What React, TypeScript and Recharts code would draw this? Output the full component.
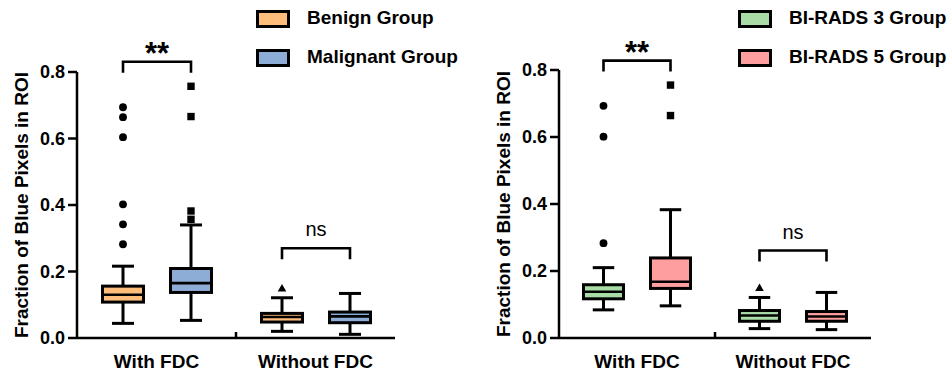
import React from 'react';
import { ComposedChart, Bar, XAxis, YAxis } from 'recharts';

// ---------- data ----------
const categories = ['With FDC', 'Without FDC'];
const yTicks = [0, 0.2, 0.4, 0.6, 0.8];

// box statistics: [min, q1, median, q3, max] per category
const benignStats = [
  [0.044, 0.108, 0.130, 0.156, 0.216],
  [0.020, 0.048, 0.063, 0.074, 0.121],
];
const malignantStats = [
  [0.053, 0.137, 0.165, 0.209, 0.340],
  [0.011, 0.046, 0.065, 0.078, 0.134],
];
const benignOutliers = [[0.282, 0.342, 0.402, 0.604, 0.664, 0.694], [0.149]];
const malignantOutliers = [[0.357, 0.382, 0.666, 0.757], []];
const leftSignificance = ['**', 'ns'];
const leftBracketLevels = [0.831, 0.270];

const birads3Stats = [
  [0.084, 0.117, 0.138, 0.159, 0.210],
  [0.028, 0.050, 0.067, 0.082, 0.121],
];
const birads5Stats = [
  [0.096, 0.148, 0.168, 0.239, 0.383],
  [0.025, 0.050, 0.064, 0.079, 0.136],
];
const birads3Outliers = [[0.283, 0.601, 0.693], [0.149]];
const birads5Outliers = [[0.664, 0.755], []];
const rightSignificance = ['**', 'ns'];
const rightBracketLevels = [0.828, 0.261];

// ---------- styles ----------
const FONT = '"Liberation Sans", Arial, Helvetica, sans-serif';
const BAR_GAP = 24;
const X_TICK_MARGIN = 17;
const COLORS = {
  benign: '#FFBD7B',
  malignant: '#8DACD6',
  birads3: '#A9DBA7',
  birads5: '#FF9E9E',
};
// marker per [category] for first / second series of each panel
const MARKERS_A = ['circle', 'triangle'];
const MARKERS_B = ['square', 'square'];

function Marker({ kind, cx, cy }: { kind: string; cx: number; cy: number }) {
  if (kind === 'circle') return <circle cx={cx} cy={cy} r={3.9} fill="#000" />;
  if (kind === 'square') return <rect x={cx - 3.7} y={cy - 3.7} width={7.4} height={7.4} fill="#000" />;
  return (
    <polygon
      points={`${cx},${cy - 4.5} ${cx - 4.3},${cy + 3} ${cx + 4.3},${cy + 3}`}
      fill="#000"
    />
  );
}

function makeBoxShape(
  statsKey: string,
  outKey: string,
  color: string,
  markers: string[],
  drawBracket: boolean
) {
  return (props: any) => {
    const { x, y, width, height, payload } = props;
    const stats: number[] = payload[statsKey];
    const outs: number[] = payload[outKey];
    const lo = stats[0];
    const hi = stats[4];
    const top = Math.min(y, y + height);
    const bottom = Math.max(y, y + height);
    const px = (v: number) => bottom - ((bottom - top) * (v - lo)) / (hi - lo);
    const cx = x + width / 2;
    const capHalf = width / 4;
    const sw = 3;
    const idx = payload.idx;
    const elems: any[] = [];
    elems.push(
      <line key="wu" x1={cx} x2={cx} y1={px(stats[4])} y2={px(stats[3])} stroke="#000" strokeWidth={sw} />,
      <line key="wl" x1={cx} x2={cx} y1={px(stats[1])} y2={px(stats[0])} stroke="#000" strokeWidth={sw} />,
      <line key="cu" x1={cx - capHalf} x2={cx + capHalf} y1={px(stats[4])} y2={px(stats[4])} stroke="#000" strokeWidth={sw} />,
      <line key="cl" x1={cx - capHalf} x2={cx + capHalf} y1={px(stats[0])} y2={px(stats[0])} stroke="#000" strokeWidth={sw} />
    );
    const bTop = px(stats[3]);
    const bBot = px(stats[1]);
    elems.push(
      <rect key="box" x={x + sw / 2} y={bTop} width={width - sw} height={Math.max(bBot - bTop, 0.1)} fill={color} stroke="#000" strokeWidth={sw} />,
      <line key="med" x1={x + sw / 2} x2={x + width - sw / 2} y1={px(stats[2])} y2={px(stats[2])} stroke="#000" strokeWidth={2.6} />
    );
    outs.forEach((v, i) => {
      elems.push(<Marker key={'o' + i} kind={markers[idx]} cx={cx} cy={px(v)} />);
    });
    if (drawBracket) {
      const left = cx - (width + BAR_GAP);
      const by = px(payload.bracket);
      const legs = 11;
      elems.push(
        <path
          key="br"
          d={`M${left},${by + legs} L${left},${by} L${cx},${by} L${cx},${by + legs}`}
          fill="none"
          stroke="#000"
          strokeWidth={2.6}
        />
      );
      const isNs = payload.sig === 'ns';
      elems.push(
        <text
          key="sig"
          x={(left + cx) / 2}
          y={isNs ? by - 12 : by + 2}
          textAnchor="middle"
          fontFamily={FONT}
          fontWeight={isNs ? 'normal' : 'bold'}
          fontSize={isNs ? 20 : 31}
          fill="#000"
        >
          {payload.sig}
        </text>
      );
    }
    return <g>{elems}</g>;
  };
}

function CategoryTick(props: any) {
  const { x, y, payload, index } = props;
  const half = typeof payload.offset === 'number' && payload.offset > 0 ? payload.offset : 78;
  const axisY = y - X_TICK_MARGIN;
  return (
    <g>
      {index > 0 && (
        <line x1={x - half} x2={x - half} y1={axisY} y2={axisY - 6} stroke="#000" strokeWidth={2.5} />
      )}
      <text x={x} y={y} dy="0.71em" textAnchor="middle" fontFamily={FONT} fontWeight="bold" fontSize={19} fill="#000">
        {payload.value}
      </text>
    </g>
  );
}

type PanelProps = {
  statsA: number[][];
  statsB: number[][];
  outA: number[][];
  outB: number[][];
  colorA: string;
  colorB: string;
  significance: string[];
  bracketLevels: number[];
  barSize: number;
  margin: { top: number; right: number; bottom: number; left: number };
  width: number;
};

function BoxPanel(p: PanelProps) {
  const data = categories.map((c, i) => ({
    category: c,
    idx: i,
    a: p.statsA[i],
    b: p.statsB[i],
    aOut: p.outA[i],
    bOut: p.outB[i],
    sig: p.significance[i],
    bracket: p.bracketLevels[i],
  }));
  return (
    <ComposedChart width={p.width} height={378} data={data} margin={p.margin} barGap={BAR_GAP} barSize={p.barSize}>
      <XAxis
        dataKey="category"
        axisLine={{ stroke: '#000', strokeWidth: 2.5 }}
        tickLine={false}
        tickSize={0}
        tickMargin={X_TICK_MARGIN}
        height={30}
        interval={0}
        tick={<CategoryTick />}
      />
      <YAxis
        domain={[0, 0.8]}
        ticks={yTicks}
        width={60}
        axisLine={{ stroke: '#000', strokeWidth: 2.5 }}
        tickLine={{ stroke: '#000', strokeWidth: 2.5 }}
        tickSize={9}
        tickMargin={3}
        tickFormatter={(v: number) => v.toFixed(1)}
        tick={{ fill: '#000', fontFamily: FONT, fontWeight: 'bold', fontSize: 18 }}
        label={{
          value: 'Fraction of Blue Pixels in ROI',
          angle: -90,
          position: 'insideLeft',
          offset: 4,
          style: { textAnchor: 'middle', fontFamily: FONT, fontWeight: 'bold', fontSize: 19, fill: '#000' },
        }}
      />
      <Bar
        dataKey={(d: any) => [d.a[0], d.a[4]]}
        fill={p.colorA}
        isAnimationActive={false}
        shape={makeBoxShape('a', 'aOut', p.colorA, MARKERS_A, false)}
      />
      <Bar
        dataKey={(d: any) => [d.b[0], d.b[4]]}
        fill={p.colorB}
        isAnimationActive={false}
        shape={makeBoxShape('b', 'bOut', p.colorB, MARKERS_B, true)}
      />
    </ComposedChart>
  );
}

function LegendBox({ left, top, items }: { left: number; top: number; items: { label: string; color: string }[] }) {
  return (
    <div style={{ position: 'absolute', left, top }}>
      {items.map((it, i) => (
        <div key={i} style={{ position: 'absolute', left: 0, top: i * 38.5, height: 18, whiteSpace: 'nowrap' }}>
          <div
            style={{
              position: 'absolute',
              left: 0,
              top: 0,
              width: 28,
              height: 12,
              background: it.color,
              border: '3px solid #000',
            }}
          />
          <div
            style={{
              position: 'absolute',
              left: 51,
              top: -4,
              fontFamily: FONT,
              fontWeight: 'bold',
              fontSize: 19,
              lineHeight: '24px',
              color: '#000',
            }}
          >
            {it.label}
          </div>
        </div>
      ))}
    </div>
  );
}

export default function App() {
  return (
    <div style={{ position: 'absolute', left: 0, top: 0, width: 948, height: 378, background: '#fff', overflow: 'hidden' }}>
      <div style={{ position: 'absolute', left: 0, top: 0 }}>
        <BoxPanel
          statsA={benignStats}
          statsB={malignantStats}
          outA={benignOutliers}
          outB={malignantOutliers}
          colorA={COLORS.benign}
          colorB={COLORS.malignant}
          significance={leftSignificance}
          bracketLevels={leftBracketLevels}
          barSize={44}
          width={474}
          margin={{ top: 72, right: 79, bottom: 10, left: 17 }}
        />
      </div>
      <div style={{ position: 'absolute', left: 474, top: 0 }}>
        <BoxPanel
          statsA={birads3Stats}
          statsB={birads5Stats}
          outA={birads3Outliers}
          outB={birads5Outliers}
          colorA={COLORS.birads3}
          colorB={COLORS.birads5}
          significance={rightSignificance}
          bracketLevels={rightBracketLevels}
          barSize={43}
          width={474}
          margin={{ top: 70, right: 77, bottom: 10, left: 25 }}
        />
      </div>
      <LegendBox
        left={256}
        top={10}
        items={[
          { label: 'Benign Group', color: COLORS.benign },
          { label: 'Malignant Group', color: COLORS.malignant },
        ]}
      />
      <LegendBox
        left={738}
        top={10}
        items={[
          { label: 'BI-RADS 3 Group', color: COLORS.birads3 },
          { label: 'BI-RADS 5 Group', color: COLORS.birads5 },
        ]}
      />
    </div>
  );
}
